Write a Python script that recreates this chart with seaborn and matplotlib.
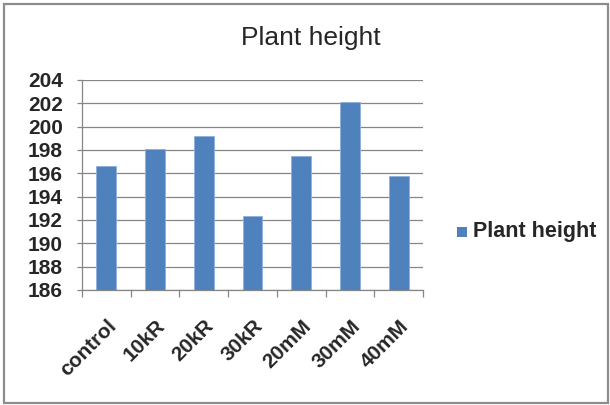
import matplotlib
matplotlib.use("Agg")
import matplotlib.pyplot as plt
import matplotlib.transforms as mtrans
import seaborn as sns
import pandas as pd
from matplotlib.patches import Rectangle

categories = ["control", "10kR", "20kR", "30kR", "20mM", "30mM", "40mM"]
values = [196.6, 198.1, 199.2, 192.3, 197.5, 202.1, 195.8]
series_name = "Plant height"
yticks = [186, 188, 190, 192, 194, 196, 198, 200, 202, 204]

sns.set_theme(style="white")
plt.rcParams['font.family'] = ['Liberation Sans', 'DejaVu Sans']

df = pd.DataFrame({"category": categories, "value": values, "series": series_name})

fig = plt.figure(figsize=(6.1, 4.05), dpi=100)
ax = fig.add_axes([82/610, 1 - 290/405, (423 - 82)/610, (290 - 80)/405])

bar_color = "#4F81BD"
sns.barplot(data=df, x="category", y="value", hue="series", palette=[bar_color],
            width=0.41, ax=ax, legend=False, saturation=1, edgecolor="#8EB0DA", linewidth=0.6)

ax.set_ylim(186, 204)
ax.set_xlim(-0.5, len(categories) - 0.5)
ax.set_yticks(yticks)
ax.set_yticklabels([str(t) for t in yticks], fontsize=15, fontweight="bold")
ax.set_xticks(range(len(categories)))
ax.set_xticklabels(categories, rotation=45, ha="right", va="center", rotation_mode="anchor",
                   fontsize=15, fontweight="bold")
ax.set_xlabel("")
ax.set_ylabel("")

ax.grid(axis="y", color="#868686", linewidth=0.9)
ax.set_axisbelow(True)
for s in ["top", "right"]:
    ax.spines[s].set_visible(False)
ax.spines["left"].set_color("#868686")
ax.spines["bottom"].set_color("#868686")
ax.spines["left"].set_linewidth(0.9)
ax.spines["bottom"].set_linewidth(0.9)

ax.tick_params(axis="y", which="major", length=3.6, color="#868686", width=0.9, left=True, pad=10)
ax.tick_params(axis="x", which="major", length=0, pad=0)
# category boundary tick marks
ax.set_xticks([i - 0.5 for i in range(len(categories) + 1)], minor=True)
ax.tick_params(axis="x", which="minor", length=5, color="#868686", width=0.9, bottom=True)

offset = mtrans.ScaledTranslation(7/100, -33/100, fig.dpi_scale_trans)
for lbl in ax.get_xticklabels():
    lbl.set_transform(lbl.get_transform() + offset)

fig.text(311/610, 1 - 38/405, "Plant height", ha="center", va="center", fontsize=19)

# legend
fig.patches.append(Rectangle((457/610, 1 - 237/405), 10/610, 10/405, transform=fig.transFigure,
                             facecolor=bar_color, edgecolor="none"))
fig.text(473/610, 1 - 231/405, series_name, ha="left", va="center", fontsize=15.5, fontweight="bold")

# outer border
fig.patches.append(Rectangle((4/610, 2/405), 604/610, 399/405, transform=fig.transFigure,
                             facecolor="none", edgecolor="#8C8C8C", linewidth=1.6))

fig.savefig("out.png", dpi=100)
